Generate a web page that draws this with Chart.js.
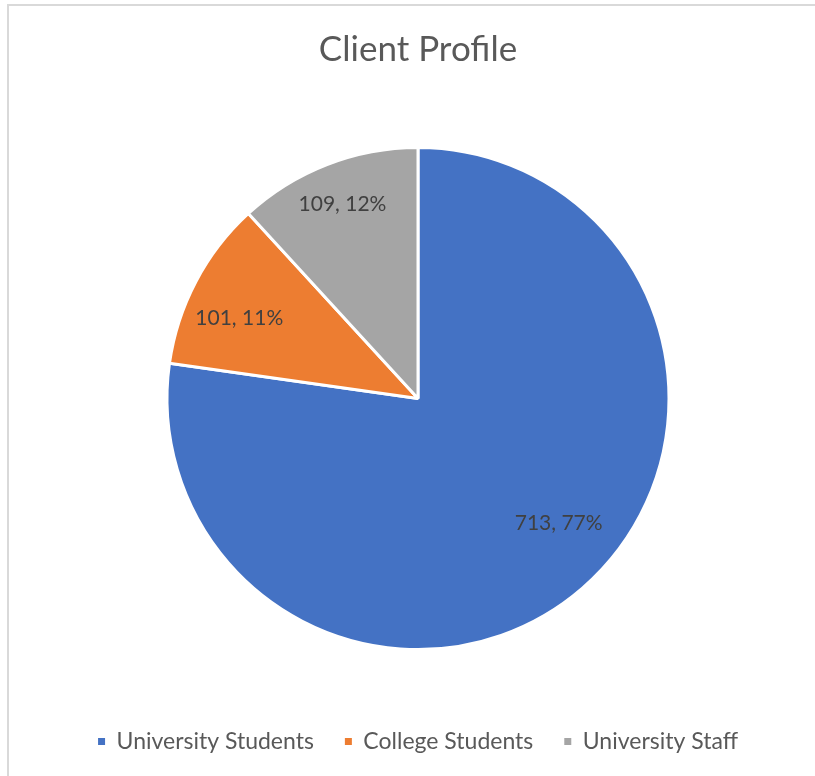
<!DOCTYPE html>
<html>
<head>
<meta charset="utf-8">
<title>Client Profile</title>
<script src="https://cdn.jsdelivr.net/npm/chart.js@4.4.1/dist/chart.umd.min.js"></script>
<style>
  html, body { margin: 0; padding: 0; background: #fff; }
  #frame {
    position: absolute; left: 7px; top: 4px; right: 0; bottom: 0;
    border-left: 2px solid #d9d9d9; border-top: 2px solid #d9d9d9;
  }
  canvas { display: block; }
</style>
</head>
<body>
<div id="frame"><canvas id="chart1"></canvas></div>
<script>
var categories = ['University Students', 'College Students', 'University Staff'];
var clients = [713, 101, 109];
var sliceColors = ['#4472C4', '#ED7D31', '#A5A5A5'];

// "value, percent" written inside each slice
var sliceLabels = {
  id: 'sliceLabels',
  afterDatasetsDraw: function(chart, args, opts) {
    var ctx = chart.ctx;
    var values = chart.data.datasets[0].data;
    var total = values.reduce(function(a, b) { return a + b; }, 0);
    ctx.save();
    ctx.font = opts.font;
    ctx.fillStyle = opts.color;
    ctx.textAlign = 'center';
    ctx.textBaseline = 'middle';
    chart.getDatasetMeta(0).data.forEach(function(arc, i) {
      var p = arc.getProps(['x', 'y', 'startAngle', 'endAngle', 'outerRadius'], true);
      var place = opts.place[i];
      var a = (p.startAngle + p.endAngle) / 2 + place.turn * Math.PI / 180;
      var r = p.outerRadius * place.dist;
      var pct = Math.round(values[i] / total * 100);
      ctx.fillText(values[i] + ', ' + pct + '%', p.x + Math.cos(a) * r, p.y + Math.sin(a) * r);
    });
    ctx.restore();
  }
};

var graph = document.getElementById('chart1');

var myChart = new Chart(graph, {
  type: 'pie',
  data: {
    labels: categories,
    datasets: [{
      data: clients,
      backgroundColor: sliceColors,
      borderColor: '#ffffff',
      borderWidth: 3
    }]
  },
  options: {
    responsive: true,
    maintainAspectRatio: false,
    animation: false,
    events: [],
    radius: 251,
    layout: { padding: { left: 12, bottom: 13 } },
    plugins: {
      title: {
        display: true,
        text: 'Client Profile',
        color: '#595959',
        font: { family: 'Lato', size: 35, weight: 'normal' },
        padding: { top: 23, bottom: 27 }
      },
      legend: {
        position: 'bottom',
        labels: {
          boxWidth: 7,
          boxHeight: 7,
          padding: 31,
          color: '#595959',
          font: { family: 'Lato', size: 23 },
          // plain filled squares, without the white slice border
          generateLabels: function(chart) {
            var items = Chart.overrides.pie.plugins.legend.labels.generateLabels(chart);
            items.forEach(function(item) { item.lineWidth = 0; });
            return items;
          }
        }
      },
      tooltip: { enabled: false },
      sliceLabels: {
        font: '21px Lato',
        color: '#404040',
        place: [
          { dist: 0.75, turn: -7.4 },
          { dist: 0.78, turn: -3.7 },
          { dist: 0.83, turn: 0 }
        ]
      }
    }
  },
  plugins: [sliceLabels]
});
</script>
</body>
</html>
